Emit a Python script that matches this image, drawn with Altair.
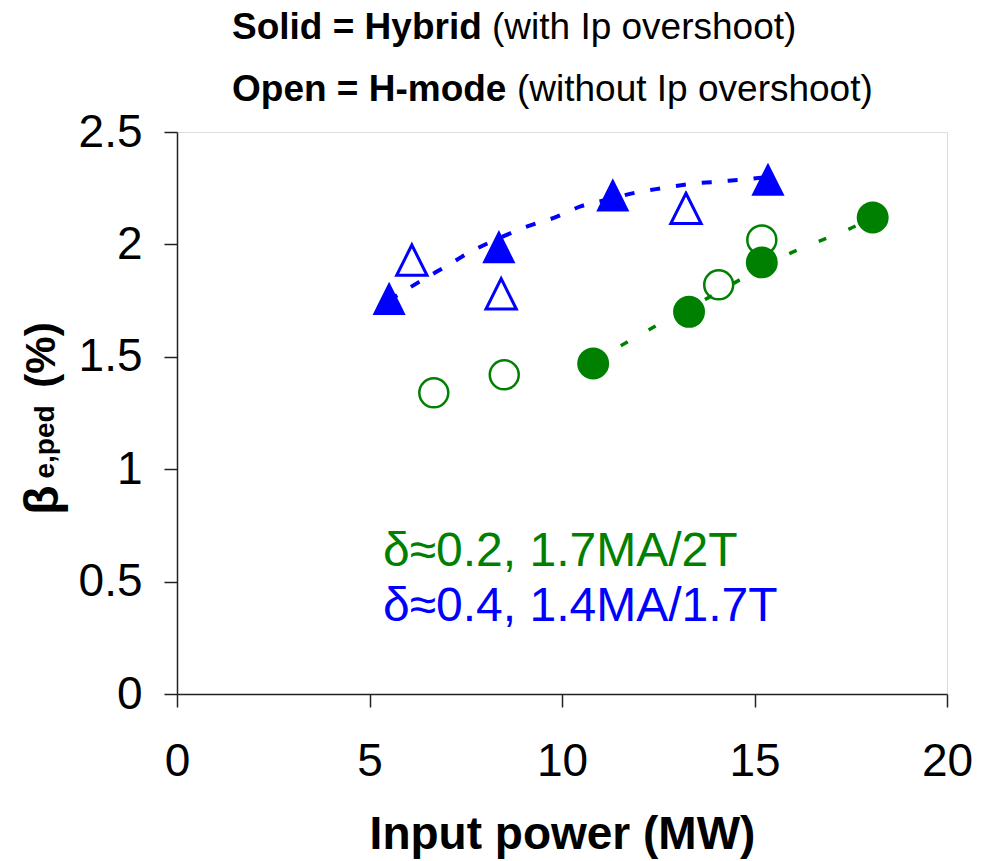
import altair as alt
import pandas as pd

# ---------------- data ----------------
green_solid_x = [10.81, 13.30, 15.19, 18.07]
green_solid_y = [1.47, 1.70, 1.92, 2.12]
green_open_x = [6.67, 8.50, 14.07, 15.19]
green_open_y = [1.34, 1.42, 1.82, 2.02]

blue_solid_x = [5.51, 8.36, 11.32, 15.35]
blue_solid_y = [1.76, 1.99, 2.22, 2.29]
blue_open_x = [6.10, 8.42, 13.22]
blue_open_y = [1.93, 1.78, 2.16]

# trend curves
blue_fit_x = [5.5, 6.26, 6.96, 7.66, 8.4, 9.1, 9.82, 10.5, 11.2, 11.9, 12.6, 13.4, 14.1, 14.8, 15.35]
blue_fit_y = [1.75, 1.83, 1.90, 1.97, 2.03, 2.08, 2.12, 2.17, 2.20, 2.23, 2.25, 2.27, 2.28, 2.29, 2.30]
green_fit_x = [10.8, 11.64, 12.36, 13.77, 14.49, 15.92, 16.62, 17.35, 18.07]
green_fit_y = [1.48, 1.56, 1.63, 1.76, 1.83, 1.96, 2.01, 2.06, 2.12]

x_ticks = [0, 5, 10, 15, 20]
y_ticks = [0, 0.5, 1, 1.5, 2, 2.5]

title_bold = ["Solid = Hybrid", "Open = H-mode"]
title_rest = ["(with Ip overshoot)", "(without Ip overshoot)"]
legend_text = ["δ≈0.2, 1.7MA/2T", "δ≈0.4, 1.4MA/1.7T"]
y_title_parts = ["β", "e,ped", "(%)"]
x_title = "Input power (MW)"

GREEN = "#008000"
BLUE = "#0000FF"
FONT = "Liberation Sans"
TRI = "M0,-1L1,1L-1,1Z"

# ---------------- encodings ----------------
X = alt.X(
    "x:Q",
    scale=alt.Scale(domain=[0, 20], nice=False, zero=False),
    axis=alt.Axis(
        values=x_ticks, grid=False, tickSize=13, tickWidth=1.5, tickColor="#222",
        domainColor="#222", domainWidth=1.5, labelFont=FONT, labelFontSize=46,
        labelColor="black", labelPadding=32, labelFlush=False, labelOverlap=False,
        title=x_title, titleFont=FONT, titleFontSize=46, titleFontWeight="bold",
        titleColor="black", titleBaseline="alphabetic", titleY=154, titleX=385,
    ),
)
Y = alt.Y(
    "y:Q",
    scale=alt.Scale(domain=[0, 2.5], nice=False, zero=False),
    axis=alt.Axis(
        values=y_ticks, format="~g", grid=False, tickSize=13, tickWidth=1.5,
        tickColor="#222", domainColor="#222", domainWidth=1.5, labelFont=FONT,
        labelFontSize=46, labelColor="black", labelPadding=22, labelFlush=False,
        labelOverlap=False, title=None,
    ),
)


def df(xs, ys):
    return pd.DataFrame({"x": xs, "y": ys})


blue_line = alt.Chart(df(blue_fit_x, blue_fit_y)).mark_line(
    color=BLUE, strokeWidth=4, strokeDash=[10, 16], interpolate="monotone"
).encode(x=X, y=Y)
green_line = alt.Chart(df(green_fit_x, green_fit_y)).mark_line(
    color=GREEN, strokeWidth=3.5, strokeDash=[8, 24], interpolate="monotone"
).encode(x=X, y=Y)

green_open = alt.Chart(df(green_open_x, green_open_y)).mark_point(
    shape="circle", size=840, filled=False, color=GREEN, strokeWidth=2.5, opacity=1
).encode(x=X, y=Y)
green_solid = alt.Chart(df(green_solid_x, green_solid_y)).mark_point(
    shape="circle", size=1020, filled=True, color=GREEN, opacity=1
).encode(x=X, y=Y)
blue_open = alt.Chart(df(blue_open_x, blue_open_y)).mark_point(
    shape=TRI, size=920, filled=False, color=BLUE, strokeWidth=3, opacity=1
).encode(x=X, y=Y)
blue_solid = alt.Chart(df(blue_solid_x, blue_solid_y)).mark_point(
    shape=TRI, size=1100, filled=True, color=BLUE, opacity=1
).encode(x=X, y=Y)


def label(text, px, py, size, color="black", weight="normal", align="left",
          baseline="alphabetic", angle=0, font=FONT):
    return alt.Chart(pd.DataFrame({"t": [text]})).mark_text(
        font=font, fontSize=size, fontWeight=weight, color=color, align=align,
        baseline=baseline, angle=angle,
    ).encode(text="t:N", x=alt.value(px), y=alt.value(py))


texts = [
    label(title_bold[0], 55, -93, 37, weight="bold"),
    label(title_rest[0], 315, -93, 37),
    label(title_bold[1], 55, -31, 37, weight="bold"),
    label(title_rest[1], 340, -31, 37),
    label(legend_text[0], 206, 434, 48, color=GREEN),
    label(legend_text[1], 206, 489, 48, color=BLUE),
    label(y_title_parts[0], -133, 368, 48, weight="bold", align="center", baseline="middle", angle=270),
    label(y_title_parts[1], -131, 310, 28, weight="bold", align="center", baseline="middle", angle=270),
    label(y_title_parts[2], -135, 223, 42, weight="bold", align="center", baseline="middle", angle=270),
]

chart = alt.layer(
    blue_line, green_line, green_open, blue_open, green_solid, blue_solid, *texts
).properties(
    width=770,
    height=562,
    autosize=alt.AutoSizeParams(type="none"),
    padding={"left": 177, "top": 132, "right": 40, "bottom": 167},
).configure_view(
    stroke="#8c8c8c", strokeWidth=2
).configure(background="white")

chart.save("out.html", embed_options={"renderer": "svg", "actions": False})
